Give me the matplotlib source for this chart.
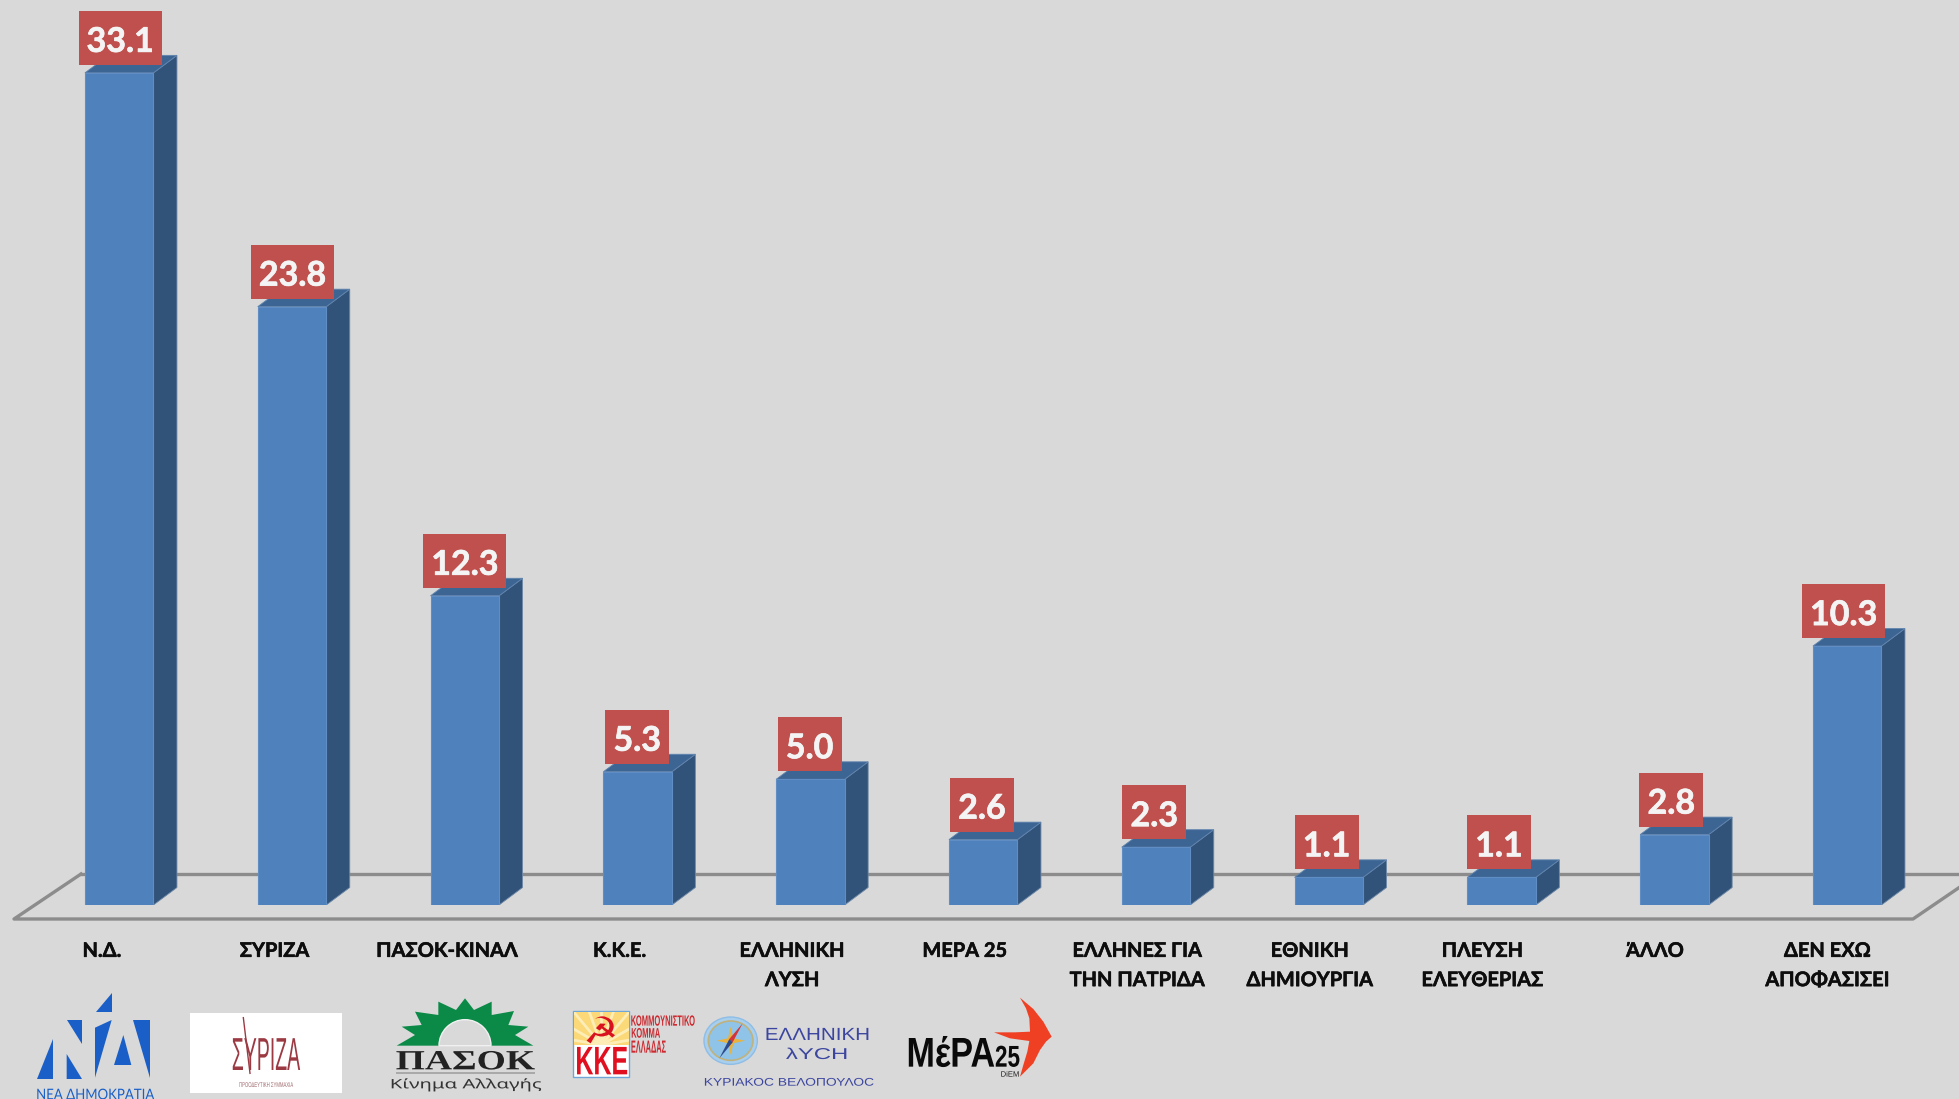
import matplotlib
matplotlib.use("Agg")
import matplotlib.pyplot as plt
import matplotlib.patheffects as pe
from matplotlib.patches import Polygon, Rectangle, Ellipse, Wedge
from matplotlib.transforms import Affine2D
import numpy as np

parties = ["Ν.Δ.", "ΣΥΡΙΖΑ", "ΠΑΣΟΚ-ΚΙΝΑΛ", "Κ.Κ.Ε.", "ΕΛΛΗΝΙΚΗ\nΛΥΣΗ", "ΜΕΡΑ 25",
           "ΕΛΛΗΝΕΣ ΓΙΑ\nΤΗΝ ΠΑΤΡΙΔΑ", "ΕΘΝΙΚΗ\nΔΗΜΙΟΥΡΓΙΑ", "ΠΛΕΥΣΗ\nΕΛΕΥΘΕΡΙΑΣ",
           "ΆΛΛΟ", "ΔΕΝ ΕΧΩ\nΑΠΟΦΑΣΙΣΕΙ"]
values = [33.1, 23.8, 12.3, 5.3, 5.0, 2.6, 2.3, 1.1, 1.1, 2.8, 10.3]

BG = "#d9d9d9"
W, H = 1959, 1099
BASE_PX = 905          # pixel row of value 0
PX_PER_X = 172.8       # pixels per category
PX_PER_Y = 25.14       # pixels per percentage point
X0_PX = 119.2          # centre of first bar

FONT = ["Lato", "Open Sans", "DejaVu Sans"]
plt.rcParams["font.family"] = FONT

fig = plt.figure(figsize=(W / 100, H / 100), dpi=100, facecolor=BG)
ax = fig.add_axes([0, (H - BASE_PX) / H, 1, BASE_PX / H])
ax.set_facecolor("none")
ax.set_xlim(-X0_PX / PX_PER_X, (W - X0_PX) / PX_PER_X)
ax.set_ylim(0, BASE_PX / PX_PER_Y)
for s in ax.spines.values():
    s.set_visible(False)
ax.set_yticks([])

x = np.arange(len(values))
bar_w = 68.5 / PX_PER_X
dx = 23.5 / PX_PER_X
dy = 17.5 / PX_PER_Y

# floor of the 3d chart
def fx(px):
    return (px - X0_PX) / PX_PER_X

def fy(py):
    return (BASE_PX - py) / PX_PER_Y

floor_c = "#8c8c8c"
ax.plot([fx(81), fx(W + 5)], [fy(874)] * 2, color=floor_c, lw=2.4, clip_on=False, zorder=1)
ax.plot([fx(81), fx(14), fx(1913), fx(1979)], [fy(874), fy(919), fy(919), fy(874)],
        color=floor_c, lw=2.4, clip_on=False, zorder=1)

# bars with side and top faces
ax.bar(x, values, width=bar_w, color="#4f81bd", edgecolor="#5f8dc4", linewidth=0.8, zorder=3)
thick = [pe.withStroke(linewidth=0.5, foreground="#f4f4f4")]
for xi, v in zip(x, values):
    xl, xr = xi - bar_w / 2, xi + bar_w / 2
    ax.add_patch(Polygon([(xr, 0), (xr + dx, dy), (xr + dx, v + dy), (xr, v)],
                         fc="#325379", ec="#6d88a8", lw=0.6, zorder=2))
    ax.add_patch(Polygon([(xl, v), (xl + dx, v + dy), (xr + dx, v + dy), (xr, v)],
                         fc="#3d6594", ec="#5f84ae", lw=0.6, zorder=2))
    # value label, the boxes are spaced a little tighter than the bars
    label = f"{v:.1f}"
    box_w = (83 if v >= 10 else 64) / PX_PER_X
    box_h = 54 / PX_PER_Y
    gap = 8 / PX_PER_Y
    cx = (120.2 + 172.35 * xi - X0_PX) / PX_PER_X
    ax.add_patch(Rectangle((cx - box_w / 2, v + gap), box_w, box_h, fc="#c0504d", ec="none", zorder=4))
    ax.text(cx, v + gap + box_h / 2 - 1 / PX_PER_Y, label, color="#f4f4f4", fontsize=24.5, fontweight="bold",
            ha="center", va="center_baseline", zorder=5, path_effects=thick)

# category labels sit a bit left of the bars
tick_x = (102 + 172.55 * x - X0_PX) / PX_PER_X
ax.set_xticks(tick_x)
ax.set_xticklabels(parties, fontsize=14.4, fontweight="bold", color="#0d0d0d", linespacing=1.58)
ax.tick_params(axis="x", length=0, pad=25.8)
for t in ax.get_xticklabels():
    t.set_path_effects([pe.withStroke(linewidth=0.4, foreground="#0d0d0d")])

# logos, in pixel coordinates of the picture
lx = fig.add_axes([0, 0, 1, 1])
lx.set_xlim(0, W)
lx.set_ylim(H, 0)
lx.axis("off")
lx.patch.set_alpha(0)
renderer = fig.canvas.get_renderer()


class Stretch(pe.AbstractPathEffect):
    # stretches a text vertically around its baseline
    def __init__(self, base_y, k):
        super().__init__()
        self.base_y = base_y
        self.k = k

    def draw_path(self, renderer, gc, tpath, affine, rgbFace=None):
        stretched = affine + Affine2D().translate(0, -self.base_y).scale(1, self.k).translate(0, self.base_y)
        renderer.draw_path(gc, tpath, stretched, rgbFace)


def poly(points, ox, color, zorder=2):
    pts = [(ox + px / 3, 985 + py / 3) for px, py in points]
    lx.add_patch(Polygon(pts, fc=color, ec="none", zorder=zorder))


def fit_text(xa, xb, ya, yb, ox, s, color, family=None, weight="normal", zorder=3):
    # box given in the 3x crop coordinates, the size is fitted to the width, the height is stretched
    py = 985 + yb / 3
    t = lx.text(ox + (xa + xb) / 6, py, s, color=color, ha="center", va="baseline",
                family=family or FONT, fontweight=weight, fontsize=10, zorder=zorder)
    width = t.get_window_extent(renderer).width
    size = 10 * (xb - xa) / 3 / width
    t.set_fontsize(size)
    # cap height is about 0.72 em, so at dpi 100 about the size in points in pixels
    t.set_path_effects([Stretch(H - py, (yb - ya) / 3 / size)])
    return t


# Nea Dimokratia
nd = "#1a5fc8"
ox = 20
for pts in [[(275, 25), (275, 80), (228, 80)],
            [(98, 162), (98, 282), (52, 282)],
            [(140, 105), (186, 105), (186, 177)],
            [(140, 207), (186, 282), (140, 282)],
            [(225, 128), (275, 105), (225, 278)],
            [(310, 150), (334, 240), (282, 240)],
            [(340, 105), (390, 105), (390, 280)]]:
    poly(pts, ox, nd)
fit_text(50, 402, 311, 343, ox, "ΝΕΑ ΔΗΜΟΚΡΑΤΙΑ", nd)

# Syriza
lx.add_patch(Rectangle((ox + 510 / 3, 985 + 84 / 3), 456 / 3, 239 / 3, fc="white", ec="none", zorder=1))
sans = ["Liberation Sans", "DejaVu Sans"]
fit_text(635, 840, 155, 255, ox, "ΣΥΡΙΖΑ", "#9c3a44", family=sans)
lx.plot([ox + 670 / 3, ox + 690 / 3], [985 + 98 / 3, 985 + 265 / 3], color="#9c3a44", lw=1, zorder=3)
fit_text(658, 820, 291, 306, ox, "ΠΡΟΟΔΕΥΤΙΚΗ ΣΥΜΜΑΧΙΑ", "#a06a6e", family=sans)

# Pasok
ox = 370
poly([(80, 182), (135, 150), (95, 125), (155, 120), (135, 80), (205, 90), (205, 50), (258, 75),
      (285, 40), (312, 75), (365, 50), (365, 90), (432, 78), (415, 120), (475, 125), (435, 150),
      (490, 182)], ox, "#0b8a47")
lx.add_patch(Wedge((ox + 285 / 3, 985 + 182 / 3), 26, 180, 360, fc=BG, ec="#f1f1f1", lw=1, zorder=3))
fit_text(78, 495, 193, 253, ox, "ΠΑΣΟΚ", "#222222", family=["Liberation Serif", "DejaVu Serif"], weight="bold")
lx.add_patch(Rectangle((ox + 78 / 3, 985 + 262 / 3), 417 / 3, 2, fc="#a9a9a9", ec="none"))
fit_text(60, 515, 282, 310, ox, "Κίνημα Αλλαγής", "#333333", family=["Noto Sans", "DejaVu Sans"])

# KKE
lx.add_patch(Rectangle((ox + 610 / 3, 985 + 78 / 3), 168 / 3, 197 / 3, fc="white", ec="#6ea6d8", lw=1, zorder=1))
sun = Rectangle((ox + 612 / 3, 985 + 80 / 3), 164 / 3, 100 / 3, fc="#fbd878", ec="none", zorder=2)
lx.add_patch(sun)
for ang in np.arange(190, 360, 20):
    a = np.radians(ang)
    ray, = lx.plot([ox + 694 / 3, ox + 694 / 3 + 70 * np.cos(a)], [985 + 180 / 3, 985 + 180 / 3 + 70 * np.sin(a)],
                   color="#fdeeb8", lw=2, zorder=2)
    ray.set_clip_path(sun)
fit_text(640, 745, 95, 175, ox, "☭", "#d9121f", family=["DejaVu Sans"])
fit_text(616, 774, 182, 268, ox, "ΚΚΕ", "#e01020", family=sans, weight="bold")
fit_text(783, 975, 90, 122, ox, "ΚΟΜΜΟΥΝΙΣΤΙΚΟ", "#cc2a30", family=sans, weight="bold")
fit_text(783, 870, 128, 158, ox, "ΚΟΜΜΑ", "#cc2a30", family=sans, weight="bold")
fit_text(783, 888, 165, 203, ox, "ΕΛΛΑΔΑΣ", "#cc2a30", family=sans, weight="bold")

# Elliniki Lysi
ox = 690
cx, cy = ox + 122 / 3, 985 + 167 / 3
lx.add_patch(Ellipse((cx, cy), 160 / 3, 142 / 3, fc="#a9cfee", ec="#8ebde6", lw=1, zorder=2))
lx.add_patch(Ellipse((cx, cy), 134 / 3, 118 / 3, fc="#8fc3e8", ec="#c0b27c", lw=1.2, zorder=2))
poly([(122, 125), (130, 160), (165, 167), (130, 175), (122, 210), (114, 175), (80, 167), (114, 160)],
     ox, "#e8b33e", zorder=3)
poly([(158, 115), (128, 172), (118, 162)], ox, "#d1343c", zorder=4)
poly([(88, 220), (118, 162), (128, 172)], ox, "#2f4a8c", zorder=4)
lysi = "#3c46a0"
fit_text(225, 540, 127, 165, ox, "ΕΛΛΗΝΙΚΗ", lysi, family=sans)
fit_text(288, 475, 188, 222, ox, "λΥCΗ", lysi, family=sans)
fit_text(40, 550, 278, 302, ox, "ΚΥΡΙΑΚΟC ΒΕΛΟΠΟΥΛΟC", lysi, family=sans)

# Mera25
poly([(990, 38), (1030, 72), (1060, 110), (1085, 155), (1068, 170), (1050, 195), (1030, 235), (990, 275),
      (1000, 240), (1012, 200), (1018, 168), (960, 160), (912, 142), (975, 142), (1020, 140), (1018, 100),
      (1008, 70)], ox, "#ef4023")
fit_text(650, 915, 155, 245, ox, "ΜέΡΑ", "#0a0a0a", family=sans, weight="bold")
fit_text(915, 990, 180, 245, ox, "25", "#0a0a0a", family=sans, weight="bold")
fit_text(932, 988, 258, 275, ox, "DiEM", "#222222", family=sans)

fig.savefig("out.png", dpi=100, facecolor=BG)
